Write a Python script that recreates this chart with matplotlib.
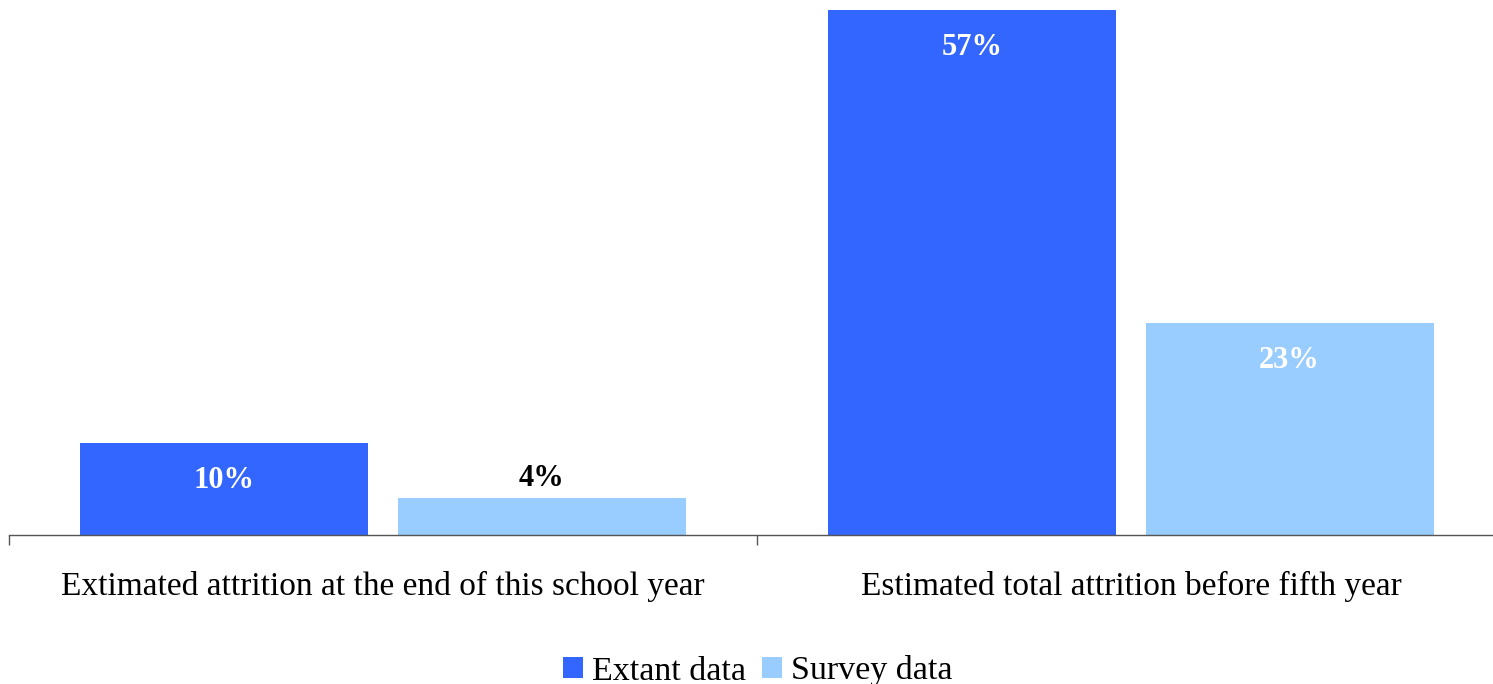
import matplotlib
matplotlib.use("Agg")
import matplotlib.pyplot as plt
import numpy as np
from matplotlib.patches import Patch

categories = ["Extimated attrition at the end of this school year",
              "Estimated total attrition before fifth year"]
series_names = ["Extant data", "Survey data"]
extant = [10, 57]
survey = [4, 23]
colors = ["#3366FF", "#99CCFF"]

plt.rcParams['font.family'] = ['Liberation Serif', 'DejaVu Serif']

W, H = 1493, 684
fig = plt.figure(figsize=(W/100, H/100), dpi=100)
ax_left = 9 / W
ax_w = 1496 / W
ax_bottom = (H - 535) / H
ax_h = (535 - 10) / H
ax = fig.add_axes([ax_left, ax_bottom, ax_w, ax_h])

x = np.arange(len(categories))
offset = 0.212
width = 0.385
ymax = 57
series = [extant, survey]
for i, (vals, col) in enumerate(zip(series, colors)):
    pos = x + (-offset if i == 0 else offset)
    bars = ax.bar(pos, vals, width=width, color=col, label=series_names[i])
    for b, v in zip(bars, vals):
        cx = b.get_x() + b.get_width() / 2
        if v >= 8:
            ax.annotate(f"{v}%", (cx, v), xytext=(0, -23), textcoords="offset pixels",
                        ha="center", va="top", color="white", fontsize=22, fontweight="bold")
        else:
            ax.annotate(f"{v}%", (cx, v), xytext=(0, 5), textcoords="offset pixels",
                        ha="center", va="bottom", color="black", fontsize=22, fontweight="bold")

ax.set_xlim(-0.5, 1.5)
ax.set_ylim(0, ymax)
ax.set_yticks([])
for s in ["top", "right", "left"]:
    ax.spines[s].set_visible(False)
ax.spines["bottom"].set_color("#555555")
ax.spines["bottom"].set_linewidth(1.0)

ax.set_xticks([-0.5, 0.5, 1.5])
ax.set_xticklabels([])
ax.tick_params(axis="x", which="major", length=7.5, width=1, color="#555555", direction="out")
ax.set_xticks(x, minor=True)
ax.set_xticklabels(categories, minor=True, fontsize=24)
ax.tick_params(axis="x", which="minor", length=0, pad=26)

handles = [Patch(facecolor=c, edgecolor="none") for c in colors]
fig.legend(handles, series_names, loc="center", bbox_to_anchor=(0.5 + 11 / W, 1 - 671 / H),
           ncol=2, frameon=False, fontsize=24.5, handlelength=0.6, handleheight=0.6,
           handletextpad=0.26, columnspacing=0.46, borderaxespad=0)

fig.savefig("out.png", dpi=100)
